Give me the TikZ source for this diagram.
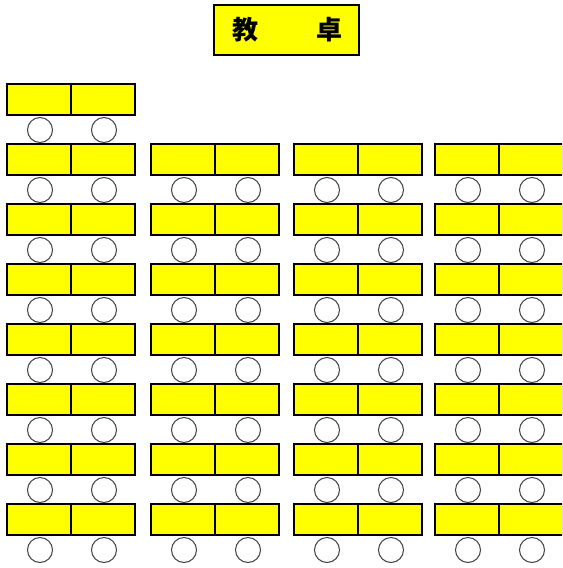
\documentclass[tikz,border=0pt]{standalone}
\usepackage{fontspec}
\newfontfamily\jpfont{Noto Sans CJK JP}
\definecolor{deskyellow}{HTML}{FFFF00}
\definecolor{seatgray}{HTML}{404040}
\tikzset{
  deskhalf/.style={draw=black, fill=deskyellow, line width=1.4pt, minimum width=48pt, minimum height=23.25pt, inner sep=0pt, outer sep=0pt, anchor=north west},
  seat/.style={circle, draw=seatgray, line width=0.75pt, minimum size=18.75pt, inner sep=0pt},
  teacher/.style={draw=black, fill=deskyellow, line width=1.5pt, minimum width=108.75pt, minimum height=37.5pt, inner sep=0pt},
  teachertext/.style={font=\jpfont\bfseries\fontsize{19.5}{19.5}\selectfont, inner sep=0pt}
}
\begin{document}
\begin{tikzpicture}[x=0.75pt,y=-0.75pt]
\useasboundingbox (0,0) rectangle (562,568);
\clip (0,0) rectangle (562,568);
\node[teacher] (td) at (286.5,30) {};
\node[teachertext] (tj1) at (245.5,30) {教};
\node[teachertext] (tj2) at (329.5,30) {卓};
% column 1 (8 rows)
\foreach \r in {0,...,7} {
  \pgfmathsetmacro{\yy}{84+60*\r}
  \node[deskhalf] (d1r\r a) at (7,\yy) {};
  \node[deskhalf] (d1r\r b) at (71,\yy) {};
  \node[seat] (s1r\r a) at (40,\yy+46) {};
  \node[seat] (s1r\r b) at (104,\yy+46) {};
}
% columns 2-4 (7 rows)
\foreach \c/\xl in {2/151,3/294,4/435} {
  \foreach \r in {1,...,7} {
    \pgfmathsetmacro{\yy}{84+60*\r}
    \node[deskhalf] (d\c r\r a) at (\xl,\yy) {};
    \node[deskhalf] (d\c r\r b) at (\xl+64,\yy) {};
    \node[seat] (s\c r\r a) at (\xl+33,\yy+46) {};
    \node[seat] (s\c r\r b) at (\xl+97,\yy+46) {};
  }
}
\end{tikzpicture}
\end{document}
